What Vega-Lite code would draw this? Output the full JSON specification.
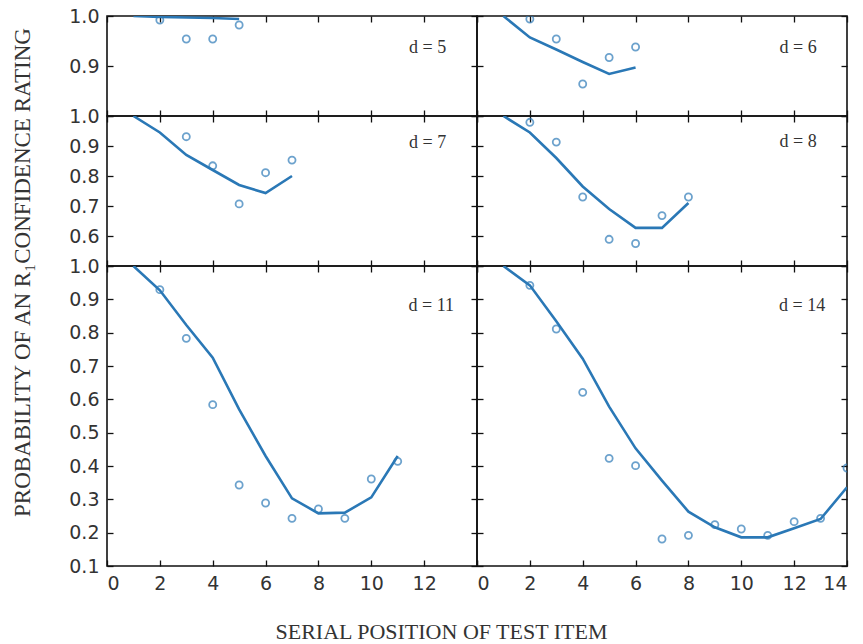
{
  "$schema": "https://vega.github.io/schema/vega-lite/v6.json",
  "background": "white",
  "padding": {"left": 10, "top": 6, "right": 5, "bottom": 5},
  "data": {"values": [
    {"d": 5, "pos": 1, "pred": 1.0, "obs": null},
    {"d": 5, "pos": 2, "pred": 0.998, "obs": 0.992},
    {"d": 5, "pos": 3, "pred": 0.997, "obs": 0.954},
    {"d": 5, "pos": 4, "pred": 0.996, "obs": 0.954},
    {"d": 5, "pos": 5, "pred": 0.994, "obs": 0.982},
    {"d": 6, "pos": 1, "pred": 1.0, "obs": null},
    {"d": 6, "pos": 2, "pred": 0.957, "obs": 0.994},
    {"d": 6, "pos": 3, "pred": 0.933, "obs": 0.954},
    {"d": 6, "pos": 4, "pred": 0.908, "obs": 0.864},
    {"d": 6, "pos": 5, "pred": 0.884, "obs": 0.917},
    {"d": 6, "pos": 6, "pred": 0.897, "obs": 0.938},
    {"d": 7, "pos": 1, "pred": 1.0, "obs": null},
    {"d": 7, "pos": 2, "pred": 0.945, "obs": null},
    {"d": 7, "pos": 3, "pred": 0.87, "obs": 0.931},
    {"d": 7, "pos": 4, "pred": 0.82, "obs": 0.834},
    {"d": 7, "pos": 5, "pred": 0.77, "obs": 0.707},
    {"d": 7, "pos": 6, "pred": 0.743, "obs": 0.811},
    {"d": 7, "pos": 7, "pred": 0.8, "obs": 0.853},
    {"d": 8, "pos": 1, "pred": 1.0, "obs": null},
    {"d": 8, "pos": 2, "pred": 0.945, "obs": 0.979},
    {"d": 8, "pos": 3, "pred": 0.86, "obs": 0.913},
    {"d": 8, "pos": 4, "pred": 0.765, "obs": 0.73},
    {"d": 8, "pos": 5, "pred": 0.69, "obs": 0.589},
    {"d": 8, "pos": 6, "pred": 0.627, "obs": 0.575},
    {"d": 8, "pos": 7, "pred": 0.627, "obs": 0.668},
    {"d": 8, "pos": 8, "pred": 0.71, "obs": 0.73},
    {"d": 11, "pos": 1, "pred": 1.0, "obs": null},
    {"d": 11, "pos": 2, "pred": 0.927, "obs": 0.929},
    {"d": 11, "pos": 3, "pred": 0.823, "obs": 0.783},
    {"d": 11, "pos": 4, "pred": 0.725, "obs": 0.584},
    {"d": 11, "pos": 5, "pred": 0.57, "obs": 0.343},
    {"d": 11, "pos": 6, "pred": 0.43, "obs": 0.289},
    {"d": 11, "pos": 7, "pred": 0.303, "obs": 0.243},
    {"d": 11, "pos": 8, "pred": 0.258, "obs": 0.271},
    {"d": 11, "pos": 9, "pred": 0.26, "obs": 0.243},
    {"d": 11, "pos": 10, "pred": 0.306, "obs": 0.361},
    {"d": 11, "pos": 11, "pred": 0.43, "obs": 0.414},
    {"d": 14, "pos": 1, "pred": 1.0, "obs": null},
    {"d": 14, "pos": 2, "pred": 0.942, "obs": 0.942},
    {"d": 14, "pos": 3, "pred": 0.834, "obs": 0.811},
    {"d": 14, "pos": 4, "pred": 0.722, "obs": 0.621},
    {"d": 14, "pos": 5, "pred": 0.578, "obs": 0.423},
    {"d": 14, "pos": 6, "pred": 0.453, "obs": 0.401},
    {"d": 14, "pos": 7, "pred": 0.356, "obs": 0.181},
    {"d": 14, "pos": 8, "pred": 0.263, "obs": 0.192},
    {"d": 14, "pos": 9, "pred": 0.216, "obs": 0.224},
    {"d": 14, "pos": 10, "pred": 0.186, "obs": 0.211},
    {"d": 14, "pos": 11, "pred": 0.186, "obs": 0.192},
    {"d": 14, "pos": 12, "pred": 0.213, "obs": 0.233},
    {"d": 14, "pos": 13, "pred": 0.241, "obs": 0.243},
    {"d": 14, "pos": 14, "pred": 0.336, "obs": 0.394}
  ]},
  "columns": 2,
  "spacing": 0,
  "bounds": "flush",
  "align": "each",
  "concat": [
    {
      "width": 370, "height": 100,
      "transform": [{"filter": "datum.d == 5"}],
      "layer": [
        {"mark": {"type": "line", "color": "#2a78b6", "strokeWidth": 2.6, "clip": true},
         "encoding": {
           "x": {"field": "pos", "type": "quantitative", "scale": {"domain": [0, 14], "nice": false}, "axis": {"orient": "bottom", "values": [0,2,4,6,8,10,12,14], "labels": false, "title": null}},
           "y": {"field": "pred", "type": "quantitative", "scale": {"domain": [0.8, 1.0], "nice": false, "zero": false}, "axis": {"orient": "left", "values": [0.8, 0.9, 1.0], "format": ".1f", "labelExpr": "datum.value < 0.85 ? '' : datum.label", "title": "PROBABILITY OF AN R\u2081CONFIDENCE RATING", "titleX": -85, "titleY": 256, "titleAngle": -90, "titleAlign": "center", "titleBaseline": "middle"}}
         }},
        {"mark": {"type": "point", "filled": false, "size": 50, "strokeWidth": 1.8, "color": "#2f7bb8", "clip": true},
         "encoding": {
           "x": {"field": "pos", "type": "quantitative", "axis": {"orient": "top", "values": [0,2,4,6,8,10,12,14], "labels": false, "title": null}},
           "y": {"field": "obs", "type": "quantitative", "axis": {"orient": "right", "values": [0.8, 0.9, 1.0], "labels": false, "title": null}}
         }},
        {"transform": [{"filter": "datum.pos == 1"}],
         "mark": {"type": "text", "font": "Liberation Serif", "fontSize": 18, "fontWeight": "normal", "color": "#333", "align": "center", "baseline": "middle"},
         "encoding": {
           "x": {"datum": 12.13, "type": "quantitative", "axis": null},
           "y": {"datum": 0.937, "type": "quantitative", "axis": null},
           "text": {"value": "d = 5"}
         }}
      ],
      "resolve": {"axis": {"x": "independent", "y": "independent"}}
    },
    {
      "width": 370, "height": 100,
      "transform": [{"filter": "datum.d == 6"}],
      "layer": [
        {"mark": {"type": "line", "color": "#2a78b6", "strokeWidth": 2.6, "clip": true},
         "encoding": {
           "x": {"field": "pos", "type": "quantitative", "scale": {"domain": [0, 14], "nice": false}, "axis": {"orient": "bottom", "values": [0,2,4,6,8,10,12,14], "labels": false, "title": null}},
           "y": {"field": "pred", "type": "quantitative", "scale": {"domain": [0.8, 1.0], "nice": false, "zero": false}, "axis": {"orient": "left", "values": [0.8, 0.9, 1.0], "labels": false, "title": null}}
         }},
        {"mark": {"type": "point", "filled": false, "size": 50, "strokeWidth": 1.8, "color": "#2f7bb8", "clip": true},
         "encoding": {
           "x": {"field": "pos", "type": "quantitative", "axis": {"orient": "top", "values": [0,2,4,6,8,10,12,14], "labels": false, "title": null}},
           "y": {"field": "obs", "type": "quantitative", "axis": {"orient": "right", "values": [0.8, 0.9, 1.0], "labels": false, "title": null}}
         }},
        {"transform": [{"filter": "datum.pos == 1"}],
         "mark": {"type": "text", "font": "Liberation Serif", "fontSize": 18, "fontWeight": "normal", "color": "#333", "align": "center", "baseline": "middle"},
         "encoding": {
           "x": {"datum": 12.15, "type": "quantitative", "axis": null},
           "y": {"datum": 0.937, "type": "quantitative", "axis": null},
           "text": {"value": "d = 6"}
         }}
      ],
      "resolve": {"axis": {"x": "independent", "y": "independent"}}
    },
    {
      "width": 370, "height": 150,
      "transform": [{"filter": "datum.d == 7"}],
      "layer": [
        {"mark": {"type": "line", "color": "#2a78b6", "strokeWidth": 2.6, "clip": true},
         "encoding": {
           "x": {"field": "pos", "type": "quantitative", "scale": {"domain": [0, 14], "nice": false}, "axis": {"orient": "bottom", "values": [0,2,4,6,8,10,12,14], "labels": false, "title": null}},
           "y": {"field": "pred", "type": "quantitative", "scale": {"domain": [0.5, 1.0], "nice": false, "zero": false}, "axis": {"orient": "left", "values": [0.5, 0.6, 0.7, 0.8, 0.9, 1.0], "format": ".1f", "labelExpr": "datum.value < 0.55 ? '' : datum.label", "title": null}}
         }},
        {"mark": {"type": "point", "filled": false, "size": 50, "strokeWidth": 1.8, "color": "#2f7bb8", "clip": true},
         "encoding": {
           "x": {"field": "pos", "type": "quantitative", "axis": {"orient": "top", "values": [0,2,4,6,8,10,12,14], "labels": false, "title": null}},
           "y": {"field": "obs", "type": "quantitative", "axis": {"orient": "right", "values": [0.5, 0.6, 0.7, 0.8, 0.9, 1.0], "labels": false, "title": null}}
         }},
        {"transform": [{"filter": "datum.pos == 1"}],
         "mark": {"type": "text", "font": "Liberation Serif", "fontSize": 18, "fontWeight": "normal", "color": "#333", "align": "center", "baseline": "middle"},
         "encoding": {
           "x": {"datum": 12.13, "type": "quantitative", "axis": null},
           "y": {"datum": 0.91, "type": "quantitative", "axis": null},
           "text": {"value": "d = 7"}
         }}
      ],
      "resolve": {"axis": {"x": "independent", "y": "independent"}}
    },
    {
      "width": 370, "height": 150,
      "transform": [{"filter": "datum.d == 8"}],
      "layer": [
        {"mark": {"type": "line", "color": "#2a78b6", "strokeWidth": 2.6, "clip": true},
         "encoding": {
           "x": {"field": "pos", "type": "quantitative", "scale": {"domain": [0, 14], "nice": false}, "axis": {"orient": "bottom", "values": [0,2,4,6,8,10,12,14], "labels": false, "title": null}},
           "y": {"field": "pred", "type": "quantitative", "scale": {"domain": [0.5, 1.0], "nice": false, "zero": false}, "axis": {"orient": "left", "values": [0.5, 0.6, 0.7, 0.8, 0.9, 1.0], "labels": false, "title": null}}
         }},
        {"mark": {"type": "point", "filled": false, "size": 50, "strokeWidth": 1.8, "color": "#2f7bb8", "clip": true},
         "encoding": {
           "x": {"field": "pos", "type": "quantitative", "axis": {"orient": "top", "values": [0,2,4,6,8,10,12,14], "labels": false, "title": null}},
           "y": {"field": "obs", "type": "quantitative", "axis": {"orient": "right", "values": [0.5, 0.6, 0.7, 0.8, 0.9, 1.0], "labels": false, "title": null}}
         }},
        {"transform": [{"filter": "datum.pos == 1"}],
         "mark": {"type": "text", "font": "Liberation Serif", "fontSize": 18, "fontWeight": "normal", "color": "#333", "align": "center", "baseline": "middle"},
         "encoding": {
           "x": {"datum": 12.15, "type": "quantitative", "axis": null},
           "y": {"datum": 0.915, "type": "quantitative", "axis": null},
           "text": {"value": "d = 8"}
         }}
      ],
      "resolve": {"axis": {"x": "independent", "y": "independent"}}
    },
    {
      "width": 370, "height": 300,
      "transform": [{"filter": "datum.d == 11"}],
      "layer": [
        {"mark": {"type": "line", "color": "#2a78b6", "strokeWidth": 2.6, "clip": true},
         "encoding": {
           "x": {"field": "pos", "type": "quantitative", "scale": {"domain": [0, 14], "nice": false}, "axis": {"orient": "bottom", "values": [0,2,4,6,8,10,12,14], "labelExpr": "datum.value == 14 ? '' : datum.label", "title": "SERIAL POSITION OF TEST ITEM", "titleX": 334, "titleY": 65, "titleAlign": "center", "titleBaseline": "middle", "titleFontSize": 22}},
           "y": {"field": "pred", "type": "quantitative", "scale": {"domain": [0.1, 1.0], "nice": false, "zero": false}, "axis": {"orient": "left", "values": [0.1, 0.2, 0.3, 0.4, 0.5, 0.6, 0.7, 0.8, 0.9, 1.0], "format": ".1f", "title": null}}
         }},
        {"mark": {"type": "point", "filled": false, "size": 50, "strokeWidth": 1.8, "color": "#2f7bb8", "clip": true},
         "encoding": {
           "x": {"field": "pos", "type": "quantitative", "axis": {"orient": "top", "values": [0,2,4,6,8,10,12,14], "labels": false, "title": null}},
           "y": {"field": "obs", "type": "quantitative", "axis": {"orient": "right", "values": [0.1, 0.2, 0.3, 0.4, 0.5, 0.6, 0.7, 0.8, 0.9, 1.0], "labels": false, "title": null}}
         }},
        {"transform": [{"filter": "datum.pos == 1"}],
         "mark": {"type": "text", "font": "Liberation Serif", "fontSize": 18, "fontWeight": "normal", "color": "#333", "align": "center", "baseline": "middle"},
         "encoding": {
           "x": {"datum": 12.27, "type": "quantitative", "axis": null},
           "y": {"datum": 0.879, "type": "quantitative", "axis": null},
           "text": {"value": "d = 11"}
         }}
      ],
      "resolve": {"axis": {"x": "independent", "y": "independent"}}
    },
    {
      "width": 370, "height": 300,
      "transform": [{"filter": "datum.d == 14"}],
      "layer": [
        {"mark": {"type": "line", "color": "#2a78b6", "strokeWidth": 2.6, "clip": true},
         "encoding": {
           "x": {"field": "pos", "type": "quantitative", "scale": {"domain": [0, 14], "nice": false}, "axis": {"orient": "bottom", "values": [0,2,4,6,8,10,12,14], "title": null}},
           "y": {"field": "pred", "type": "quantitative", "scale": {"domain": [0.1, 1.0], "nice": false, "zero": false}, "axis": {"orient": "left", "values": [0.1, 0.2, 0.3, 0.4, 0.5, 0.6, 0.7, 0.8, 0.9, 1.0], "labels": false, "title": null}}
         }},
        {"mark": {"type": "point", "filled": false, "size": 50, "strokeWidth": 1.8, "color": "#2f7bb8", "clip": true},
         "encoding": {
           "x": {"field": "pos", "type": "quantitative", "axis": {"orient": "top", "values": [0,2,4,6,8,10,12,14], "labels": false, "title": null}},
           "y": {"field": "obs", "type": "quantitative", "axis": {"orient": "right", "values": [0.1, 0.2, 0.3, 0.4, 0.5, 0.6, 0.7, 0.8, 0.9, 1.0], "labels": false, "title": null}}
         }},
        {"transform": [{"filter": "datum.pos == 1"}],
         "mark": {"type": "text", "font": "Liberation Serif", "fontSize": 18, "fontWeight": "normal", "color": "#333", "align": "center", "baseline": "middle"},
         "encoding": {
           "x": {"datum": 12.3, "type": "quantitative", "axis": null},
           "y": {"datum": 0.879, "type": "quantitative", "axis": null},
           "text": {"value": "d = 14"}
         }}
      ],
      "resolve": {"axis": {"x": "independent", "y": "independent"}}
    }
  ],
  "config": {
    "view": {"stroke": "#111", "strokeWidth": 1.6},
    "axis": {
      "domain": false, "grid": false, "ticks": true,
      "tickSize": -6, "tickColor": "#111", "tickWidth": 1.3,
      "labelFont": "DejaVu Sans", "labelFontSize": 19, "labelColor": "#333", "labelPadding": 14,
      "labelOverlap": false,
      "titleFont": "Liberation Serif", "titleFontSize": 23, "titleFontWeight": "normal", "titleColor": "#333"
    }
  }
}
